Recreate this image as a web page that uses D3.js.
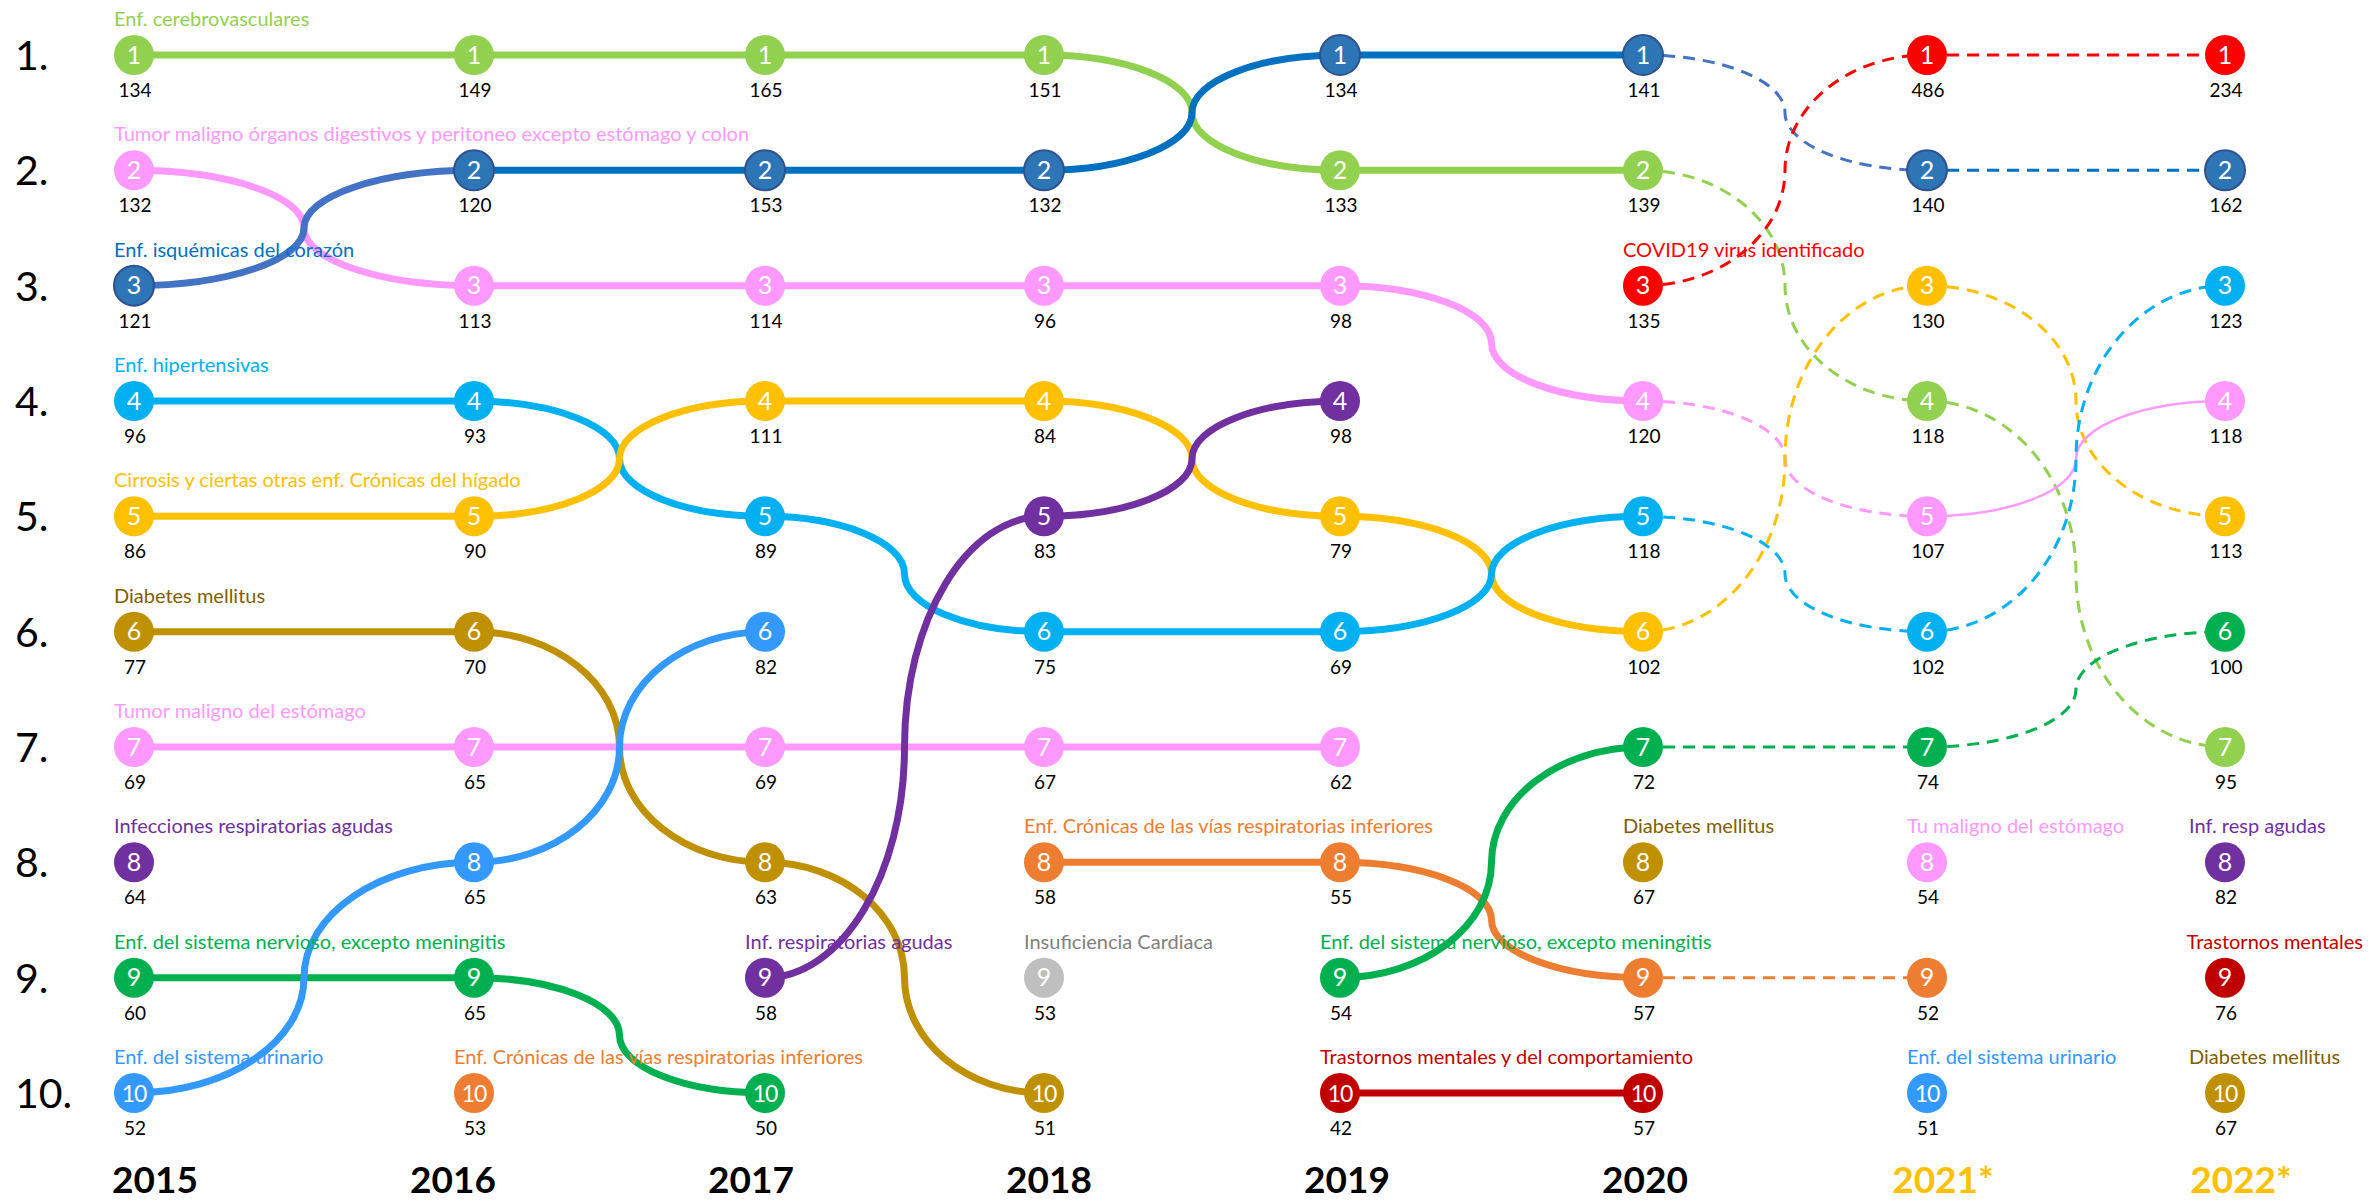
<!DOCTYPE html>
<html><head><meta charset="utf-8">
<script src="https://cdn.jsdelivr.net/npm/d3@7"></script>
<style>html,body{margin:0;padding:0;background:#fff;overflow:hidden} svg{display:block}</style>
</head><body><svg id="chart" width="2369" height="1203"></svg>
<script>
// ---------- DATA ----------
const years = ["2015","2016","2017","2018","2019","2020","2021*","2022*"];
const rankLabels = ["1.","2.","3.","4.","5.","6.","7.","8.","9.","10."];

// cause keys ordered by rank (1..10) for each year
const order2015 = ["cer","tdig","isq","hip","cir","dia","est","ira","ner","uri"];
const order2016 = ["cer","isq","tdig","hip","cir","dia","est","uri","ner","cro"];
const order2017 = ["cer","isq","tdig","cir","hip","uri","est","dia","ira","ner"];
const order2018 = ["cer","isq","tdig","cir","ira","hip","est","cro","ins","dia"];
const order2019 = ["isq","cer","tdig","ira","cir","hip","est","cro","ner","tra"];
const order2020 = ["isq","cer","cov","tdig","hip","cir","ner","dia","cro","tra"];
const order2021 = ["cov","isq","cir","cer","tdig","hip","ner","est","cro","uri"];
const order2022 = ["cov","isq","hip","tdig","cir","ner","cer","ira","tra","dia"];

// deaths shown under each circle, same order
const deaths2015 = [134,132,121,96,86,77,69,64,60,52];
const deaths2016 = [149,120,113,93,90,70,65,65,65,53];
const deaths2017 = [165,153,114,111,89,82,69,63,58,50];
const deaths2018 = [151,132,96,84,83,75,67,58,53,51];
const deaths2019 = [134,133,98,98,79,69,62,55,54,42];
const deaths2020 = [141,139,135,120,118,102,72,67,57,57];
const deaths2021 = [486,140,130,118,107,102,74,54,52,51];
const deaths2022 = [234,162,123,118,113,100,95,82,76,67];

const causeKeys = ["cer","tdig","isq","hip","cir","dia","est","ira","ner","uri","cro","ins","tra","cov"];

// names written above a circle where a cause (re)appears
const nameLabels = [
  {year:"2015", cause:"cer",  text:"Enf. cerebrovasculares"},
  {year:"2015", cause:"tdig", text:"Tumor maligno órganos digestivos y peritoneo excepto estómago y colon"},
  {year:"2015", cause:"isq",  text:"Enf. isquémicas del corazón"},
  {year:"2015", cause:"hip",  text:"Enf. hipertensivas"},
  {year:"2015", cause:"cir",  text:"Cirrosis y ciertas otras enf. Crónicas del hígado"},
  {year:"2015", cause:"dia",  text:"Diabetes mellitus"},
  {year:"2015", cause:"est",  text:"Tumor maligno del estómago"},
  {year:"2015", cause:"ira",  text:"Infecciones respiratorias agudas"},
  {year:"2015", cause:"ner",  text:"Enf. del sistema nervioso, excepto meningitis"},
  {year:"2015", cause:"uri",  text:"Enf. del sistema urinario"},
  {year:"2016", cause:"cro",  text:"Enf. Crónicas de las vías respiratorias inferiores"},
  {year:"2017", cause:"ira",  text:"Inf. respiratorias agudas"},
  {year:"2018", cause:"cro",  text:"Enf. Crónicas de las vías respiratorias inferiores"},
  {year:"2018", cause:"ins",  text:"Insuficiencia Cardiaca"},
  {year:"2019", cause:"ner",  text:"Enf. del sistema nervioso, excepto meningitis"},
  {year:"2019", cause:"tra",  text:"Trastornos mentales y del comportamiento"},
  {year:"2020", cause:"cov",  text:"COVID19 virus identificado"},
  {year:"2020", cause:"dia",  text:"Diabetes mellitus"},
  {year:"2021*", cause:"est", text:"Tu maligno del estómago"},
  {year:"2021*", cause:"uri", text:"Enf. del sistema urinario"},
  {year:"2022*", cause:"ira", text:"Inf. resp agudas"},
  {year:"2022*", cause:"tra", text:"Trastornos mentales"},
  {year:"2022*", cause:"dia", text:"Diabetes mellitus"}
];

// ---------- STYLE ----------
const circleColor = {cer:"#92D050",tdig:"#FF99FF",isq:"#2E75B6",hip:"#00B0F0",cir:"#FFC000",dia:"#BF9000",
  est:"#FF99FF",ira:"#7030A0",ner:"#00B050",uri:"#3399FF",cro:"#ED7D31",ins:"#BFBFBF",tra:"#C00000",cov:"#FF0000"};
const lineColor = Object.assign({}, circleColor, {isq:"#0070C0"});
const textColor = Object.assign({}, circleColor, {isq:"#0070C0", dia:"#7F6000", ins:"#7F7F7F"});
const yearColor = {"2021*":"#FFC000","2022*":"#FFC000"};
const FONT = "Lato, 'Open Sans', 'DejaVu Sans', sans-serif";
const W = 2369;

const orders = [order2015,order2016,order2017,order2018,order2019,order2020,order2021,order2022];
const deaths = [deaths2015,deaths2016,deaths2017,deaths2018,deaths2019,deaths2020,deaths2021,deaths2022];

// ---------- SCALES ----------
const x = d3.scaleOrdinal().domain(years).range([134,474,765,1044,1340,1643,1927,2225]);
const xYear = d3.scalePoint().domain(years).range([155,2241]);
const y = d3.scaleLinear().domain([1,10]).range([55,1093]);

const svg = d3.select("#chart");

// build nodes
const nodes = [];
years.forEach((yr,i)=>{
  orders[i].forEach((c,r)=>nodes.push({year:yr, yi:i, cause:c, rank:r+1, value:deaths[i][r]}));
});
const nodeOf = (yi,c)=>nodes.find(n=>n.yi===yi && n.cause===c);

// links between consecutive years for causes present in both
const links = [];
for (let i=0;i<years.length-1;i++){
  orders[i].forEach(c=>{
    const a = nodeOf(i,c), b = nodeOf(i+1,c);
    if (a && b) links.push({a,b,cause:c,yi:i});
  });
}
function linkStyle(l){
  let s = {color: lineColor[l.cause], width: 7, dash: null};
  if (l.yi >= 5) { s.width = 3; s.dash = "12,8"; }
  if (l.cause==="isq" && (l.yi===0 || l.yi===5)) s.color = "#4472C4";
  if (l.cause==="tdig" && l.yi===6) { s.dash = null; s.width = 2.5; }
  return s;
}
function linkPath(l){
  const x0=x(l.a.year), y0=y(l.a.rank), x1=x(l.b.year), y1=y(l.b.rank);
  const p = d3.path();
  p.moveTo(x0,y0);
  if (y0===y1){ p.lineTo(x1,y1); return p.toString(); }
  const k=0.5523, xm=(x0+x1)/2, ym=(y0+y1)/2;
  p.bezierCurveTo(x0+k*(xm-x0), y0, xm, ym-k*(ym-y0), xm, ym);
  p.bezierCurveTo(xm, ym+k*(y1-ym), x1-k*(x1-xm), y1, x1, y1);
  return p.toString();
}

// lines
svg.append("g").selectAll("path").data(links).join("path")
  .attr("d", linkPath)
  .attr("fill","none")
  .each(function(l){
    const s = linkStyle(l);
    d3.select(this).attr("stroke", s.color).attr("stroke-width", s.width)
      .attr("stroke-dasharray", s.dash);
  });

// rank labels
svg.append("g").selectAll("text").data(rankLabels).join("text")
  .attr("x", 15).attr("y", (d,i)=>y(i+1)+15)
  .attr("font-family", FONT).attr("font-size", 41).attr("fill","#000")
  .text(d=>d);

// year labels
svg.append("g").selectAll("text").data(years).join("text")
  .attr("x", d=>xYear(d)).attr("y", 1193)
  .attr("text-anchor","middle")
  .attr("font-family", FONT).attr("font-weight", 700).attr("font-size", 37)
  .attr("fill", d=>yearColor[d]||"#000")
  .text(d=>d);

// circles
const g = svg.append("g").selectAll("g").data(nodes).join("g")
  .attr("transform", d=>`translate(${x(d.year)},${y(d.rank)})`);
g.append("circle").attr("r",20)
  .attr("fill", d=>circleColor[d.cause])
  .attr("stroke", d=>d.cause==="isq" ? "#2F528F" : "none")
  .attr("stroke-width", 2);
g.append("text").attr("text-anchor","middle").attr("y", 8.5)
  .attr("font-family", FONT).attr("font-size", d=>d.rank===10?23:25).attr("fill","#fff")
  .attr("letter-spacing", d=>d.rank===10?-1:0)
  .text(d=>d.rank);
g.append("text").attr("text-anchor","middle").attr("y", 42).attr("x",1)
  .attr("font-family", FONT).attr("font-size", 19).attr("fill","#000")
  .text(d=>d.value);

// name labels (kept inside the page on the right)
svg.append("g").selectAll("text").data(nameLabels).join("text")
  .attr("x", d=>x(d.year) - (d.year==="2022*" ? 36 : 20))
  .attr("y", d=>y(orders[years.indexOf(d.year)].indexOf(d.cause)+1)-29)
  .attr("font-family", FONT).attr("font-size", 20)
  .attr("fill", d=>textColor[d.cause])
  .text(d=>d.text)
  .each(function(){
    const t = d3.select(this);
    const x0 = +t.attr("x"), w = this.getComputedTextLength();
    if (x0 + w > W - 6) t.attr("x", W - 6 - w);
  });
</script></body></html>
